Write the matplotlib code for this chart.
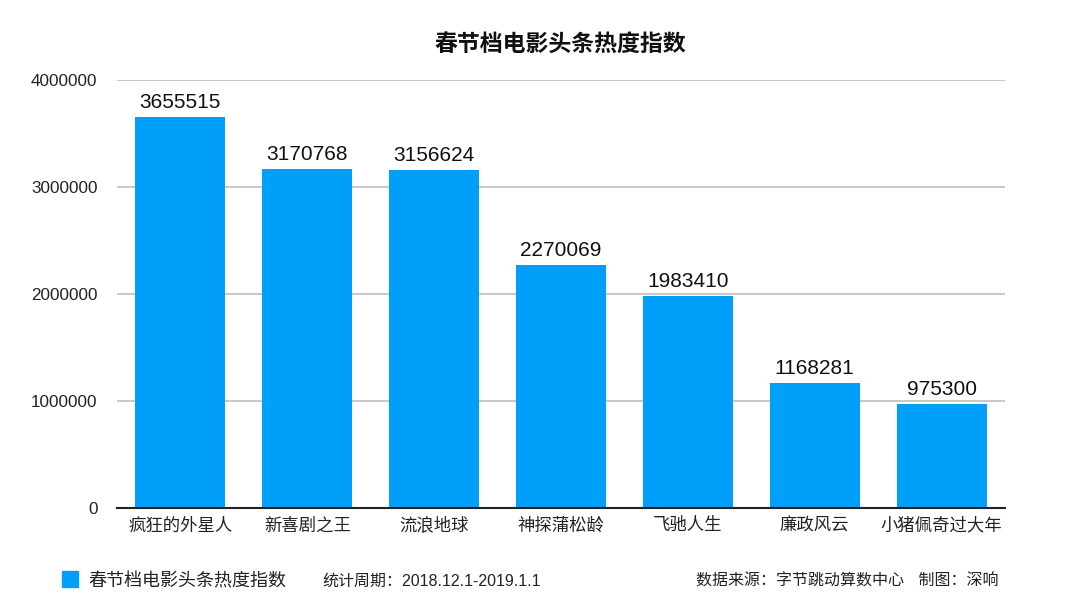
import matplotlib
matplotlib.use("Agg")
import matplotlib.pyplot as plt
from matplotlib.patches import Rectangle

# Liberation Sans for the digits (Helvetica-like), CJK falls back to Noto
plt.rcParams['font.family'] = ['Liberation Sans', 'Noto Sans CJK SC', 'DejaVu Sans']
CJK = ['Noto Sans CJK SC', 'DejaVu Sans']

movies = ["疯狂的外星人", "新喜剧之王", "流浪地球", "神探蒲松龄", "飞驰人生", "廉政风云", "小猪佩奇过大年"]
heat = [3655515, 3170768, 3156624, 2270069, 1983410, 1168281, 975300]
yticks = [0, 1000000, 2000000, 3000000, 4000000]

title = "春节档电影头条热度指数"
legend_label = "春节档电影头条热度指数"
period = "统计周期：2018.12.1-2019.1.1"
source = "数据来源：字节跳动算数中心    制图：深响"

bar_color = "#00a0fa"

fig = plt.figure(figsize=(10.8, 6.11), dpi=100)
ax = fig.add_axes([0.1083, 0.1686, 0.8223, 0.7004])

x = range(len(movies))
bars = ax.bar(x, heat, width=0.71, color=bar_color, zorder=3)
for b, v in zip(bars, heat):
    ax.text(b.get_x() + b.get_width() / 2, v + 45000, str(v),
            ha="center", va="bottom", fontsize=15, color="#111111")

ax.set_xlim(-0.5, len(movies) - 0.5)
ax.set_ylim(0, 4000000)
ax.set_yticks(yticks)
ax.set_yticklabels([str(t) for t in yticks], fontsize=12.3, color="#222222")
ax.set_xticks(list(x))
ax.set_xticklabels(movies, fontsize=12.5, color="#222222", family=CJK)
ax.tick_params(axis="y", length=0, pad=14)
ax.tick_params(axis="x", length=0, pad=6)
ax.grid(axis="y", color="#c4c4c4", linewidth=1.3, zorder=0)
for s in ["top", "right", "left"]:
    ax.spines[s].set_visible(False)
ax.spines["bottom"].set_color("#222222")
ax.spines["bottom"].set_linewidth(1.5)
ax.spines["bottom"].set_zorder(4)

fig.text(0.519, 0.926, title, ha="center", va="center", fontsize=16.5,
         fontweight="bold", color="#111111", family=CJK)

base = 1 - 586 / 611
fig.patches.append(Rectangle((62 / 1080, 1 - 587 / 611), 16 / 1080, 16 / 611,
                             transform=fig.transFigure, color=bar_color))
fig.text(88 / 1080, base, legend_label, ha="left", va="baseline",
         fontsize=13, color="#222222", family=CJK)
fig.text(322 / 1080, base, period, ha="left", va="baseline",
         fontsize=11.5, color="#222222")
fig.text(998 / 1080, base, source, ha="right", va="baseline",
         fontsize=11.5, color="#222222", family=CJK)

fig.savefig("out.png", dpi=100)
